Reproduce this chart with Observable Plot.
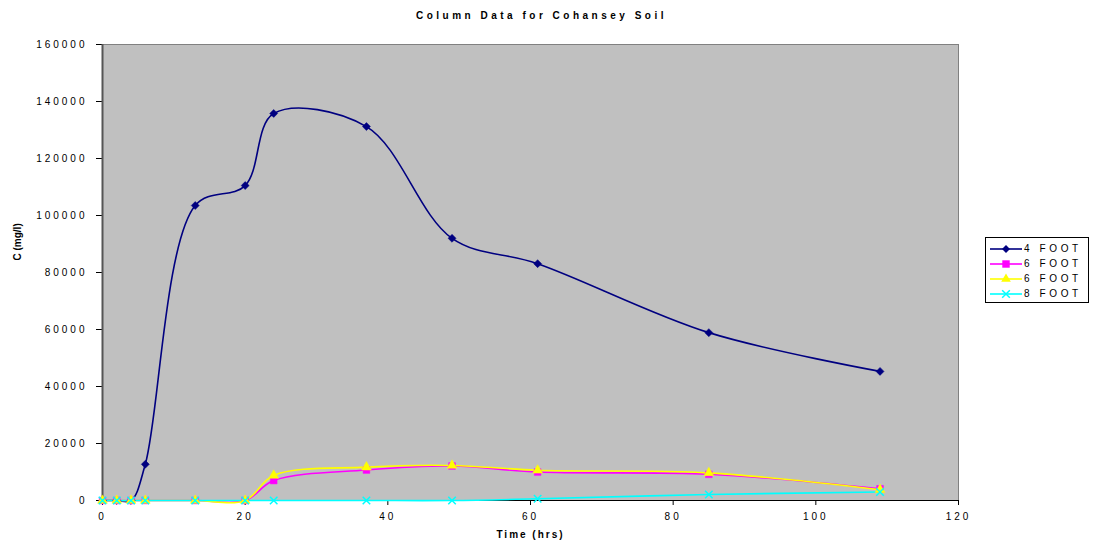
<!DOCTYPE html>
<html>
<head>
<meta charset="utf-8">
<script src="https://cdn.jsdelivr.net/npm/d3@7"></script>
<script src="https://cdn.jsdelivr.net/npm/@observablehq/plot@0.6"></script>
<style>
  html, body { margin: 0; padding: 0; background: #fff; }
  #wrap { position: relative; width: 1093px; height: 548px; font-family: "Liberation Sans", Arial, sans-serif; }
  #wrap svg text { font-family: "Liberation Sans", Arial, sans-serif; }
  [aria-label="x-axis tick label"] text, [aria-label="y-axis tick label"] text { letter-spacing: 3px; }
  #legend { position: absolute; left: 985px; top: 237px; width: 104px; height: 66px; border: 1px solid #000; background: #fff; box-sizing: border-box; }
  #legend .row { position: absolute; left: 4px; height: 15px; display: flex; align-items: center; font-size: 10px; letter-spacing: 3.6px; color: #000; }
  #legend svg { margin-right: 2px; }
</style>
</head>
<body>
<div id="wrap"></div>
<script>
const title = "Column Data for Cohansey Soil";
const xLabel = "Time (hrs)";
const yLabel = "C (mg/l)";
const xTicks = [0, 20, 40, 60, 80, 100, 120];
const yTicks = [0, 20000, 40000, 60000, 80000, 100000, 120000, 140000, 160000];
const times = [0, 2, 4, 6, 13, 20, 24, 37, 49, 61, 85, 109];
const foot4 = [0, 0, 0, 12700, 103500, 110500, 135800, 131200, 92000, 83100, 58900, 45300];
const foot6a = [0, 0, 0, 0, 0, 0, 7000, 10700, 12100, 10000, 9200, 4100];
const foot6b = [0, 0, 0, 0, 0, 0, 8800, 11700, 12300, 10600, 9700, 3800];
const foot8 = [0, 0, 0, 0, 0, 0, 0, 0, 0, 600, 2100, 3000];
const seriesNames = ["4 FOOT", "6 FOOT", "6 FOOT", "8 FOOT"];
const seriesColors = ["#000080", "#FF00FF", "#FFFF00", "#00FFFF"];
const seriesSymbols = ["diamond2", "square", "triangle", "times"];
const seriesValues = [foot4, foot6a, foot6b, foot8];

const series = seriesValues.map((vals, i) => times.map((t, j) => ({t, v: vals[j]})));

const marks = [
  Plot.frame({fill: "#C0C0C0", stroke: "#808080"}),
  Plot.axisY({ticks: yTicks, tickSize: 6, tickPadding: 9, tickFormat: d => String(d), label: null}),
  Plot.axisX({ticks: xTicks, tickSize: 5, tickPadding: 7, tickFormat: d => String(d), label: null}),
  Plot.ruleY([0], {stroke: "#000"}),
  Plot.ruleX([0], {stroke: "#555", strokeWidth: 2})
];
series.forEach((d, i) => {
  marks.push(Plot.line(d, {x: "t", y: "v", stroke: seriesColors[i], strokeWidth: 1.6, curve: "catmull-rom"}));
});
series.forEach((d, i) => {
  const sym = seriesSymbols[i];
  if (sym === "times") {
    marks.push(Plot.dot(d, {x: "t", y: "v", symbol: sym, r: 3.5, stroke: seriesColors[i], strokeWidth: 1.5}));
  } else {
    marks.push(Plot.dot(d, {x: "t", y: "v", symbol: sym, r: sym === "square" ? 3.8 : 3.6, fill: seriesColors[i], stroke: seriesColors[i], strokeWidth: 0.5}));
  }
});
marks.push(Plot.text([title], {frameAnchor: "top", dy: -33, dx: 11, fontWeight: "bold", fontSize: 10, text: d => d, className: "spaced"}));
marks.push(Plot.text([xLabel], {frameAnchor: "bottom", dy: 37, fontWeight: "bold", fontSize: 10, text: d => d, className: "spaced2"}));
marks.push(Plot.text([yLabel], {frameAnchor: "left", dx: -85, dy: -12, rotate: -90, fontWeight: "bold", fontSize: 10, text: d => d}));

const chart = Plot.plot({
  width: 1093, height: 548,
  marginLeft: 102, marginRight: 135, marginTop: 44, marginBottom: 48,
  x: {domain: [0, 120]},
  y: {domain: [0, 160000]},
  style: {fontSize: "10px", background: "#fff", color: "#000", overflow: "visible"},
  marks
});
d3.select(chart).selectAll('.spaced text, text.spaced, .spaced').style("letter-spacing", "3.5px");
d3.select(chart).selectAll('.spaced2 text, text.spaced2, .spaced2').style("letter-spacing", "2px");
const wrap = document.getElementById("wrap");
wrap.appendChild(chart);

const legend = document.createElement("div");
legend.id = "legend";
seriesNames.forEach((name, i) => {
  const row = document.createElement("div");
  row.className = "row";
  row.style.top = (3 + i * 15) + "px";
  const ns = "http://www.w3.org/2000/svg";
  const s = document.createElementNS(ns, "svg");
  s.setAttribute("width", 32); s.setAttribute("height", 12);
  const line = document.createElementNS(ns, "line");
  line.setAttribute("x1", 0); line.setAttribute("x2", 32); line.setAttribute("y1", 6); line.setAttribute("y2", 6);
  line.setAttribute("stroke", seriesColors[i]); line.setAttribute("stroke-width", 1.6);
  s.appendChild(line);
  const p = document.createElementNS(ns, "path");
  const symObj = {diamond2: d3.symbolDiamond2, square: d3.symbolSquare, triangle: d3.symbolTriangle, times: d3.symbolTimes}[seriesSymbols[i]];
  p.setAttribute("d", d3.symbol(symObj, seriesSymbols[i] === "square" ? 55 : 40)());
  p.setAttribute("transform", "translate(16,6)");
  if (seriesSymbols[i] === "times") { p.setAttribute("fill", "none"); p.setAttribute("stroke", seriesColors[i]); p.setAttribute("stroke-width", 1.5); }
  else { p.setAttribute("fill", seriesColors[i]); }
  s.appendChild(p);
  row.appendChild(s);
  row.appendChild(document.createTextNode(name));
  legend.appendChild(row);
});
wrap.appendChild(legend);
</script>
</body>
</html>
